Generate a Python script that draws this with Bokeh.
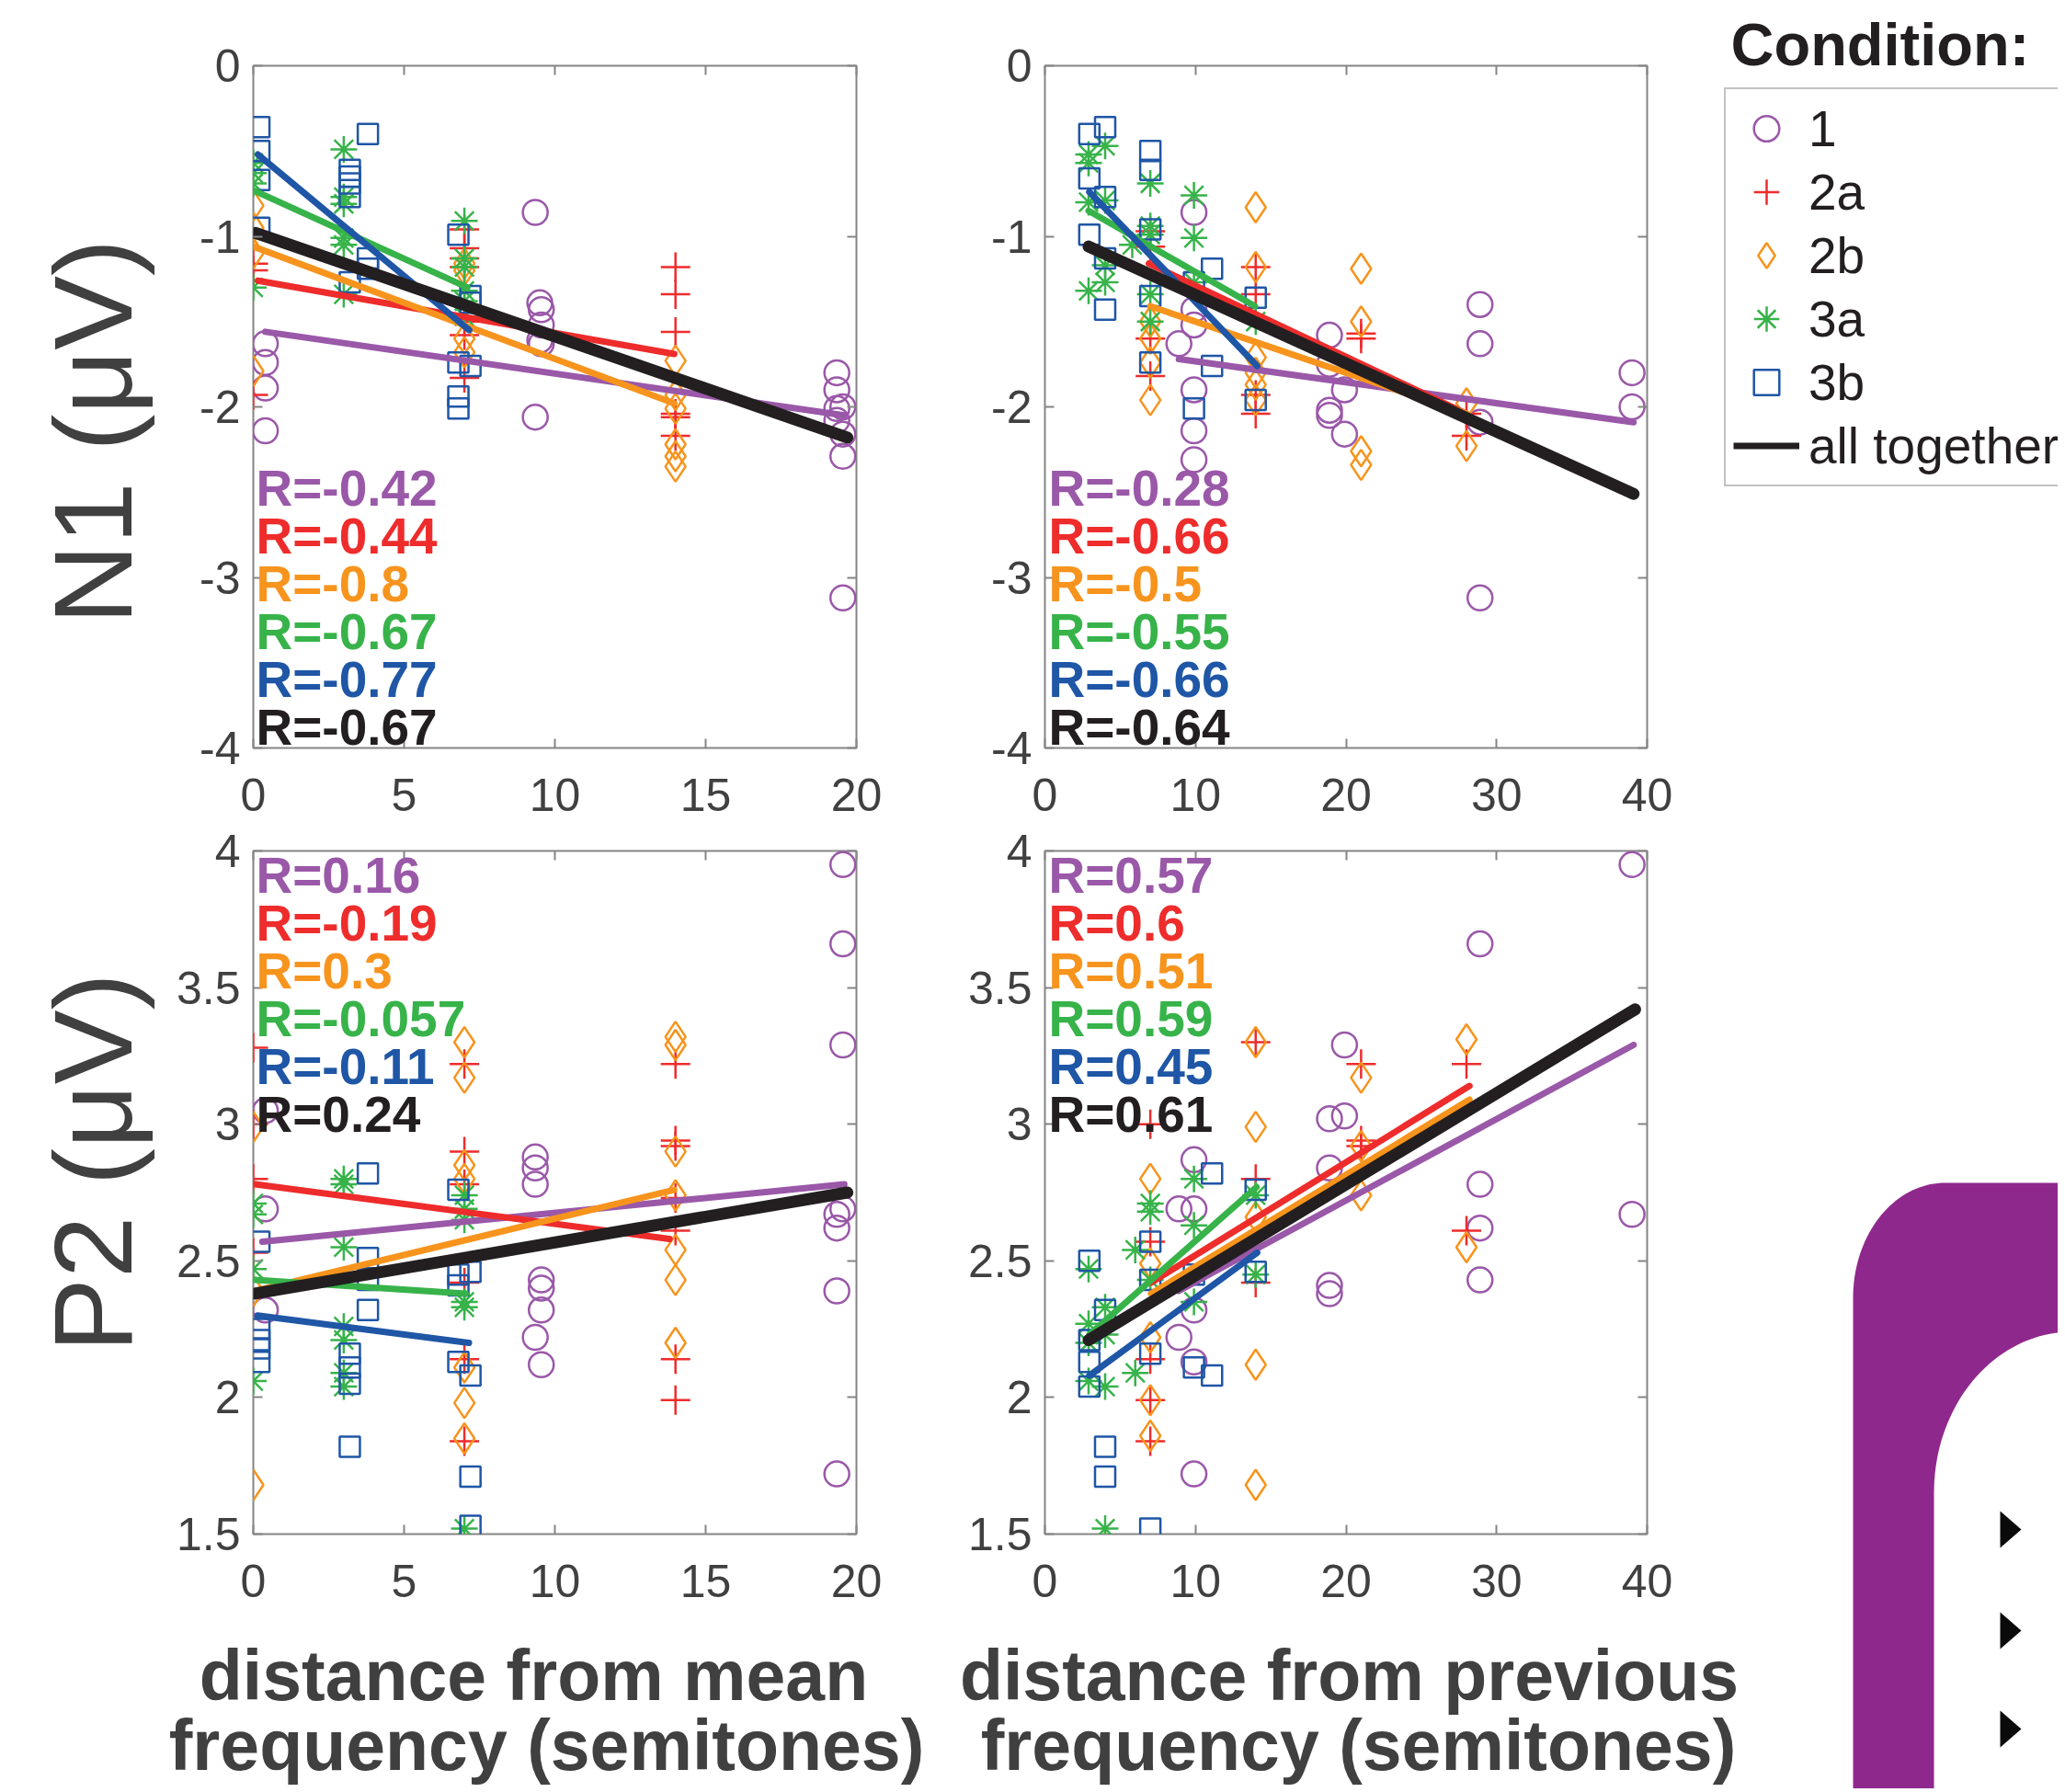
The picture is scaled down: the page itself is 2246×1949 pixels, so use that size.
import numpy as np
from bokeh.plotting import figure
from bokeh.models import Range1d, LinearAxis, FixedTicker, Label, Legend, LegendItem, ColumnDataSource
from bokeh.layouts import row, column
from bokeh.embed import file_html
from bokeh.resources import INLINE
from bokeh.core.properties import value

FONT = "Liberation Sans"
FRAME = "#858585"
TICKTXT = "#404040"

# ---------------- data ----------------
conditions = ["1", "2a", "2b", "3a", "3b"]
colors = ["#9A58A8", "#EE2C2C", "#F7941D", "#37B34A", "#1F56A6"]
all_color = "#231F20"
markers = ["circle", "cross", "diamond", "asterisk", "square"]

x_ticks_mean = [0, 5, 10, 15, 20]
x_labels_mean = ["0", "5", "10", "15", "20"]
x_ticks_prev = [0, 10, 20, 30, 40]
x_labels_prev = ["0", "10", "20", "30", "40"]
y_ticks_n1 = [-4, -3, -2, -1, 0]
y_labels_n1 = ["-4", "-3", "-2", "-1", "0"]
y_ticks_p2 = [1.5, 2, 2.5, 3, 3.5, 4]
y_labels_p2 = ["1.5", "2", "2.5", "3", "3.5", "4"]

# N1 vs distance from mean frequency
tl_x_1 = [0.4, 0.4, 0.4, 0.4, 9.35, 9.35, 9.5, 9.55, 9.55, 9.5, 9.55, 19.35, 19.35, 19.55, 19.35, 19.35, 19.55, 19.55, 19.55]
tl_y_1 = [-1.63, -1.74, -1.89, -2.14, -0.86, -2.06, -1.39, -1.43, -1.52, -1.61, -1.63, -1.80, -1.90, -2.00, -2.01, -2.08, -2.16, -2.29, -3.12]
tl_x_2a = [0, 0, 0, 7, 7, 7, 7, 7, 7, 7, 14, 14, 14, 14, 14, 14]
tl_y_2a = [-1.16, -1.20, -1.93, -0.96, -1.07, -1.13, -1.18, -1.50, -1.58, -1.83, -1.18, -1.34, -1.56, -2.04, -2.06, -2.17]
tl_x_2b = [0, 0, 0, 0, 7, 7, 7, 7, 14, 14, 14, 14, 14, 14]
tl_y_2b = [-0.82, -0.95, -1.10, -1.79, -1.16, -1.20, -1.60, -1.68, -1.73, -1.93, -2.01, -2.22, -2.29, -2.35]
tl_x_3a = [0, 0, 0, 0, 3, 3, 3, 3, 3, 3, 7, 7, 7, 7, 7, 7]
tl_y_3a = [-0.57, -0.63, -0.69, -1.30, -0.49, -0.77, -0.81, -1.01, -1.05, -1.34, -0.91, -1.13, -1.18, -1.32, -1.38, -1.47]
tl_x_3b = [0.2, 0.2, 0.2, 0.2, 3.2, 3.2, 3.2, 3.2, 3.2, 3.8, 3.8, 3.8, 6.8, 6.8, 6.8, 6.8, 7.2, 7.2, 7.2]
tl_y_3b = [-0.36, -0.50, -0.67, -0.95, -0.61, -0.65, -0.69, -0.77, -1.27, -0.40, -1.13, -1.19, -0.99, -1.74, -1.94, -2.01, -1.35, -1.39, -1.76]
tl_fit_x = [[0.4, 19.6], [0.15, 13.96], [0.0, 13.96], [0.0, 7.1], [0.15, 7.16]]
tl_fit_y = [[-1.56, -2.05], [-1.26, -1.69], [-1.06, -1.98], [-0.73, -1.30], [-0.52, -1.55]]
tl_all_x = [0.08, 19.7]
tl_all_y = [-0.98, -2.18]
tl_r = ["R=-0.42", "R=-0.44", "R=-0.8", "R=-0.67", "R=-0.77", "R=-0.67"]

# N1 vs distance from previous frequency
tr_x_1 = [8.9, 9.9, 9.9, 9.9, 9.9, 9.9, 9.9, 18.9, 18.9, 18.9, 18.9, 19.9, 19.9, 28.9, 28.9, 28.9, 28.9, 39, 39]
tr_y_1 = [-1.63, -0.86, -1.43, -1.52, -1.90, -2.14, -2.31, -1.58, -1.75, -2.02, -2.05, -1.90, -2.16, -1.40, -1.63, -2.09, -3.12, -1.80, -2.00]
tr_x_2a = [7, 7, 7, 7, 14, 14, 14, 14, 21, 21, 28, 28]
tr_y_2a = [-0.97, -1.06, -1.60, -1.82, -1.18, -1.34, -1.93, -2.04, -1.57, -1.60, -2.04, -2.17]
tr_x_2b = [7, 7, 7, 7, 14, 14, 14, 14, 14, 14, 21, 21, 21, 21, 28, 28]
tr_y_2b = [-1.50, -1.60, -1.74, -1.96, -0.83, -1.18, -1.71, -1.80, -1.87, -1.96, -1.19, -1.50, -2.26, -2.34, -1.98, -2.23]
tr_x_3a = [2.9, 2.9, 2.9, 2.9, 4, 4, 4, 4, 5.8, 7, 7, 7, 7, 7, 9.9, 9.9, 9.9, 14]
tr_y_3a = [-0.52, -0.57, -0.80, -1.32, -0.47, -0.79, -1.17, -1.27, -1.05, -0.69, -0.94, -0.99, -1.34, -1.50, -0.76, -1.01, -1.27, -1.50]
tr_x_3b = [2.95, 2.95, 2.95, 4, 4, 4, 4, 7, 7, 7, 7, 7, 9.9, 9.9, 11.1, 11.1, 14, 14]
tr_y_3b = [-0.40, -0.66, -0.99, -0.36, -0.77, -1.13, -1.43, -0.50, -0.61, -0.96, -1.35, -1.74, -1.27, -2.01, -1.19, -1.76, -1.36, -1.96]
tr_fit_x = [[8.9, 39.1], [6.9, 28.0], [7.0, 28.0], [2.9, 13.95], [2.95, 14.1]]
tr_fit_y = [[-1.72, -2.09], [-1.16, -2.04], [-1.41, -2.04], [-0.85, -1.41], [-0.74, -1.76]]
tr_all_x = [2.9, 39.1]
tr_all_y = [-1.06, -2.51]
tr_r = ["R=-0.28", "R=-0.66", "R=-0.5", "R=-0.55", "R=-0.66", "R=-0.64"]

# P2 vs distance from mean frequency
bl_x_1 = [0.4, 0.4, 0.4, 9.35, 9.35, 9.35, 9.35, 9.55, 9.55, 9.55, 9.55, 19.55, 19.55, 19.55, 19.55, 19.35, 19.35, 19.35, 19.35]
bl_y_1 = [3.05, 2.69, 2.32, 2.88, 2.84, 2.78, 2.22, 2.43, 2.40, 2.32, 2.12, 3.95, 3.66, 3.29, 2.69, 2.67, 2.62, 2.39, 1.72]
bl_x_2a = [0, 0, 0, 0, 7, 7, 7, 7, 7, 7, 14, 14, 14, 14, 14, 14, 14]
bl_y_2a = [3.28, 3.00, 2.80, 2.53, 3.22, 2.90, 2.78, 2.42, 2.14, 1.84, 3.22, 2.94, 2.92, 2.73, 2.61, 2.14, 1.99]
bl_x_2b = [0, 0, 0, 7, 7, 7, 7, 7, 7, 7, 14, 14, 14, 14, 14, 14, 14]
bl_y_2b = [2.99, 2.39, 1.68, 3.30, 3.17, 2.85, 2.80, 2.11, 1.98, 1.85, 3.32, 3.29, 2.90, 2.74, 2.54, 2.43, 2.20]
bl_x_3a = [0, 0, 0, 0, 3, 3, 3, 3, 3, 3, 3, 7, 7, 7, 7, 7, 7]
bl_y_3a = [2.71, 2.67, 2.47, 2.06, 2.80, 2.78, 2.55, 2.26, 2.21, 2.09, 2.04, 2.74, 2.69, 2.65, 2.35, 2.33, 1.52]
bl_x_3b = [0.2, 0.2, 0.2, 0.2, 0.2, 3.2, 3.2, 3.2, 3.2, 3.8, 3.8, 3.8, 3.8, 6.8, 6.8, 6.8, 6.8, 7.2, 7.2, 7.2, 7.2]
bl_y_3b = [2.57, 2.25, 2.21, 2.18, 2.13, 2.16, 2.11, 2.05, 1.82, 2.82, 2.51, 2.43, 2.32, 2.76, 2.45, 2.41, 2.13, 2.46, 2.08, 1.71, 1.53]
bl_fit_x = [[0.3, 19.6], [0.06, 13.8], [0.06, 13.96], [0.06, 7.05], [0.14, 7.15]]
bl_fit_y = [[2.57, 2.78], [2.78, 2.58], [2.39, 2.76], [2.43, 2.38], [2.30, 2.20]]
bl_all_x = [0.06, 19.7]
bl_all_y = [2.38, 2.75]
bl_r = ["R=0.16", "R=-0.19", "R=0.3", "R=-0.057", "R=-0.11", "R=0.24"]

# P2 vs distance from previous frequency
br_x_1 = [8.9, 8.9, 9.9, 9.9, 9.9, 9.9, 9.9, 18.9, 18.9, 18.9, 18.9, 19.9, 19.9, 28.9, 28.9, 28.9, 28.9, 39, 39]
br_y_1 = [2.69, 2.22, 2.87, 2.69, 2.32, 2.13, 1.72, 3.02, 2.84, 2.41, 2.38, 3.29, 3.03, 3.66, 2.78, 2.62, 2.43, 3.95, 2.67]
br_x_2a = [7, 7, 7, 7, 7, 14, 14, 14, 21, 21, 21, 28, 28]
br_y_2a = [3.00, 2.57, 2.14, 1.99, 1.84, 3.30, 2.80, 2.42, 3.22, 2.94, 2.92, 3.22, 2.61]
br_x_2b = [7, 7, 7, 7, 7, 14, 14, 14, 14, 14, 21, 21, 21, 28, 28]
br_y_2b = [2.80, 2.49, 2.22, 1.99, 1.86, 3.30, 2.99, 2.66, 2.12, 1.68, 3.17, 2.92, 2.74, 3.31, 2.55]
br_x_3a = [2.9, 2.9, 2.9, 2.9, 4, 4, 4, 4, 6, 6, 7, 7, 7, 9.9, 9.9, 9.9, 14, 14]
br_y_3a = [2.47, 2.27, 2.20, 2.06, 2.33, 2.23, 2.04, 1.52, 2.54, 2.09, 2.71, 2.68, 2.43, 2.80, 2.63, 2.35, 2.74, 2.45]
br_x_3b = [2.95, 2.95, 2.95, 2.95, 4, 4, 4, 7, 7, 7, 7, 9.9, 9.9, 11.1, 11.1, 14, 14]
br_y_3b = [2.50, 2.21, 2.13, 2.04, 2.32, 1.82, 1.71, 2.57, 2.43, 2.16, 1.52, 2.45, 2.11, 2.82, 2.08, 2.76, 2.46]
br_fit_x = [[8.9, 39.1], [7.05, 28.2], [7.05, 28.2], [2.95, 14.05], [2.95, 14.1]]
br_fit_y = [[2.39, 3.29], [2.42, 3.14], [2.38, 3.09], [2.23, 2.77], [2.08, 2.53]]
br_all_x = [2.9, 39.2]
br_all_y = [2.21, 3.42]
br_r = ["R=0.57", "R=0.6", "R=0.51", "R=0.59", "R=0.45", "R=0.61"]

# ---------------- styles ----------------
marker_sizes = [27, 32, 33, 29, 22]
R_FONT = "55px"
R_STEP = 52
TOTAL_H = 1945
ROW1_H = 895


def bare_fig(width, height, xr, yr):
    f = figure(width=width, height=height, x_range=Range1d(*xr), y_range=Range1d(*yr),
               output_backend="svg", toolbar_location=None, min_border=0,
               x_axis_location=None, y_axis_location=None, frame_align=False)
    f.grid.visible = False
    f.outline_line_color = None
    return f


def make_panel(width, height, left, right, top, bottom, xr, yr, xt, xl, yt, yl):
    p = figure(width=width, height=height, x_range=Range1d(*xr), y_range=Range1d(*yr),
               output_backend="svg", toolbar_location=None, frame_align=False,
               min_border_left=left, min_border_right=right,
               min_border_top=top, min_border_bottom=bottom)
    p.xgrid.visible = False
    p.ygrid.visible = False
    p.outline_line_color = FRAME
    p.outline_line_width = 2
    for ax, ticks, labels, standoff in ((p.xaxis[0], xt, xl, 33), (p.yaxis[0], yt, yl, 14)):
        ax.ticker = FixedTicker(ticks=ticks)
        ax.major_label_overrides = {t: l for t, l in zip(ticks, labels)}
        ax.axis_line_color = None
        ax.major_tick_line_color = FRAME
        ax.major_tick_line_width = 2
        ax.major_tick_in = 10
        ax.major_tick_out = 0
        ax.minor_tick_line_color = None
        ax.major_label_text_font = FONT
        ax.major_label_text_font_size = "50px"
        ax.major_label_text_color = TICKTXT
        ax.major_label_standoff = standoff
    for loc, ticks in (("above", xt), ("right", yt)):
        a = LinearAxis(ticker=FixedTicker(ticks=ticks), axis_line_color=None,
                       major_tick_line_color=FRAME, major_tick_line_width=2,
                       major_tick_in=10, major_tick_out=0, minor_tick_line_color=None,
                       major_label_overrides={t: "" for t in ticks},
                       major_label_text_font_size="8px", major_label_standoff=0)
        p.add_layout(a, loc)
    return p


def fill_panel(p, xs_list, ys_list, fit_x, fit_y, all_x, all_y, r_texts, r_x, r_y0):
    for xs, ys, col, mk, sz in zip(xs_list, ys_list, colors, markers, marker_sizes):
        p.scatter(xs, ys, marker=mk, size=sz, line_color=col, fill_color=None, line_width=2.5)
    for fx, fy, col in zip(fit_x, fit_y, colors):
        p.line(fx, fy, line_color=col, line_width=7, line_cap="round")
    p.line(all_x, all_y, line_color=all_color, line_width=13, line_cap="round")
    for k, (txt, col) in enumerate(zip(r_texts, colors + [all_color])):
        p.add_layout(Label(x=r_x, y=r_y0 - k * R_STEP, x_units="screen", y_units="screen",
                           text=txt, text_font=FONT, text_font_style="bold",
                           text_font_size=R_FONT, text_color=col,
                           text_align="left", text_baseline="middle"))


# ---------------- panels ----------------
tl = make_panel(860, ROW1_H, 95, 109, 71, 82, (0, 20), (-4, 0),
                x_ticks_mean, x_labels_mean, y_ticks_n1, y_labels_n1)
fill_panel(tl, [tl_x_1, tl_x_2a, tl_x_2b, tl_x_3a, tl_x_3b],
           [tl_y_1, tl_y_2a, tl_y_2b, tl_y_3a, tl_y_3b],
           tl_fit_x, tl_fit_y, tl_all_x, tl_all_y, tl_r, 3, 283)

tr = make_panel(820, ROW1_H, 96, 69, 71, 82, (0, 40), (-4, 0),
                x_ticks_prev, x_labels_prev, y_ticks_n1, y_labels_n1)
fill_panel(tr, [tr_x_1, tr_x_2a, tr_x_2b, tr_x_3a, tr_x_3b],
           [tr_y_1, tr_y_2a, tr_y_2b, tr_y_3a, tr_y_3b],
           tr_fit_x, tr_fit_y, tr_all_x, tr_all_y, tr_r, 4, 283)

bl = make_panel(860, 865, 95, 109, 30, 92, (0, 20), (1.5, 4),
                x_ticks_mean, x_labels_mean, y_ticks_p2, y_labels_p2)
fill_panel(bl, [bl_x_1, bl_x_2a, bl_x_2b, bl_x_3a, bl_x_3b],
           [bl_y_1, bl_y_2a, bl_y_2b, bl_y_3a, bl_y_3b],
           bl_fit_x, bl_fit_y, bl_all_x, bl_all_y, bl_r, 3, 717)

br = make_panel(860, 865, 96, 109, 30, 92, (0, 40), (1.5, 4),
                x_ticks_prev, x_labels_prev, y_ticks_p2, y_labels_p2)
fill_panel(br, [br_x_1, br_x_2a, br_x_2b, br_x_3a, br_x_3b],
           [br_y_1, br_y_2a, br_y_2b, br_y_3a, br_y_3b],
           br_fit_x, br_fit_y, br_all_x, br_all_y, br_r, 4, 717)

# ---------------- y-axis titles (left strip) ----------------
ylab = bare_fig(180, TOTAL_H, (0, 180), (TOTAL_H, 0))
for txt, cy in (("N1 (μV)", 469), ("P2 (μV)", 1264)):
    ylab.add_layout(Label(x=100, y=cy, text=txt, angle=np.pi / 2, text_align="center",
                          text_baseline="middle", text_font=FONT, text_font_size="121px",
                          text_color=TICKTXT))

# ---------------- x-axis titles (bottom strip) ----------------
xlab = bare_fig(1720, TOTAL_H - 1760, (180, 1900), (TOTAL_H, 1760))
for txt, cx, cy in (("distance from mean", 580, 1821), ("frequency (semitones)", 594, 1897),
                    ("distance from previous", 1467, 1821), ("frequency (semitones)", 1477, 1897)):
    xlab.add_layout(Label(x=cx, y=cy, text=txt, text_align="center", text_baseline="middle",
                          text_font=FONT, text_font_style="bold", text_font_size="77px",
                          text_color=TICKTXT))

# ---------------- legend column ----------------
lf = bare_fig(378, ROW1_H, (1860, 2238), (ROW1_H, 0))
items = []
for cond, col, mk in zip(conditions, colors, markers):
    src = ColumnDataSource(dict(x=[np.nan], y=[np.nan]))
    r = lf.scatter("x", "y", source=src, marker=mk, size=10, line_color=col,
                   fill_color=None, line_width=2.5)
    items.append(LegendItem(label=value(cond), renderers=[r]))
src_all = ColumnDataSource(dict(x=[np.nan, np.nan], y=[np.nan, np.nan]))
r_all = lf.line("x", "y", source=src_all, line_color=all_color, line_width=7)
items.append(LegendItem(label=value("all together"), renderers=[r_all]))
legend = Legend(items=items, location=(15, ROW1_H - 529), orientation="vertical",
                glyph_width=72, glyph_height=69, label_standoff=10, padding=8,
                spacing=0, margin=0, label_text_font=FONT, label_text_font_size="55px",
                label_text_color="#231F20", label_height=60,
                border_line_color=FRAME, border_line_width=2,
                background_fill_color="white", background_fill_alpha=1.0)
lf.add_layout(legend)
lf.add_layout(Label(x=1882, y=48, text="Condition:", text_font=FONT, text_font_style="bold",
                    text_font_size="65px", text_color="#231F20", text_baseline="middle"))

# ---------------- poster decoration (bottom right) ----------------
pf = bare_fig(338, TOTAL_H - ROW1_H, (1900, 2238), (TOTAL_H, ROW1_H))


def rounded(left, top, rx, ry, right, bottom):
    t = np.linspace(0, np.pi / 2, 40)
    ax = (left + rx) - rx * np.cos(t)
    ay = (top + ry) - ry * np.sin(t)
    return [left] + list(ax) + [right, right], [bottom] + list(ay) + [top, bottom]


ox, oy = rounded(2015, 1286, 100, 125, 2300, 2000)
pf.patch(ox, oy, fill_color="#8F288D", line_color=None)
ix, iy = rounded(2103, 1448, 150, 175, 2300, 2000)
pf.patch(ix, iy, fill_color="white", line_color=None)
tri_x, tri_y = [], []
for cy in (1663, 1773, 1880):
    tri_x.append([2175, 2198, 2175])
    tri_y.append([cy - 20, cy, cy + 20])
pf.patches(tri_x, tri_y, fill_color="#0A0A0A", line_color=None)

layout = row(ylab,
             column(row(tl, tr, lf),
                    row(column(row(bl, br), xlab), pf)))
open("out.html", "w").write(file_html(layout, INLINE))
